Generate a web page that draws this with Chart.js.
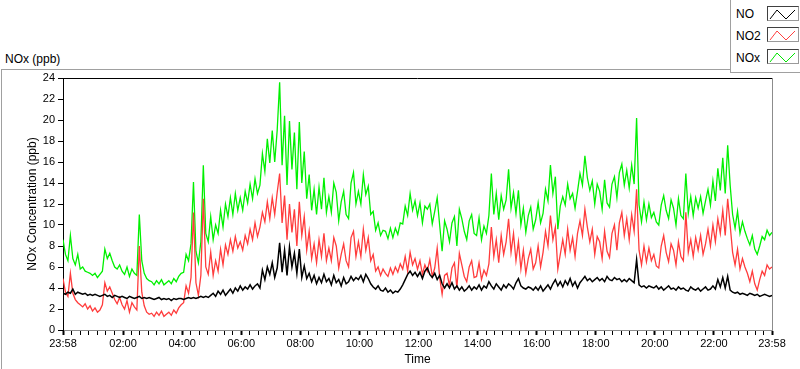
<!DOCTYPE html>
<html>
<head>
<meta charset="utf-8">
<script src="https://cdn.jsdelivr.net/npm/chart.js@4"></script>
<style>
  body { margin: 0; background: #fff; font-family: "Liberation Sans", Arial, sans-serif; color: #000; }
  #wrap { position: relative; width: 800px; height: 369px; overflow: hidden; }
  #frame { position: absolute; left: 1px; top: 69px; width: 820px; height: 400px;
           border-left: 1px solid #a0a0a0; border-top: 1px solid #a0a0a0; }
  #chartTitle { position: absolute; left: 5px; top: 52px; font-size: 12px; }
  #legend { position: absolute; left: 730px; top: -1px; width: 70px; height: 72px;
            border: 1px solid #a0a0a0; background: #fff; }
  .lbl { position: absolute; left: 5px; font-size: 12px; line-height: 14px; }
  .icon { position: absolute; left: 36px; width: 30px; height: 13px;
          border: 1px solid #9a9a9a; border-top-color: #404040; border-left-color: #404040; }
  canvas { position: absolute; left: 0; top: 0; }
</style>
</head>
<body>
<div id="wrap">
  <div id="frame"></div>
  <div id="chartTitle">NOx (ppb)</div>
  <canvas id="noxChart" width="800" height="369"></canvas>
  <div id="legend">
    <div class="lbl" style="top:7px">NO</div>
    <div class="icon" style="top:6px"><svg width="30" height="13"><polyline points="2,11 9,2 18,11 27,2" fill="none" stroke="#000" stroke-width="1"/></svg></div>
    <div class="lbl" style="top:29px">NO2</div>
    <div class="icon" style="top:27px"><svg width="30" height="13"><polyline points="2,11 9,2 18,11 27,2" fill="none" stroke="#ff4040" stroke-width="1"/></svg></div>
    <div class="lbl" style="top:51px">NOx</div>
    <div class="icon" style="top:49px"><svg width="30" height="13"><polyline points="2,11 9,2 18,11 27,2" fill="none" stroke="#00e600" stroke-width="1"/></svg></div>
  </div>
</div>
<script>
// minutes after 23:58, one reading every 5 minutes
const minutes = Array.from({ length: 289 }, (_, i) => i * 5);

const noValues = [
  3.5,3.4,3.6,3.5,3.9,3.4,3.6,3.5,3.4,3.5,3.3,3.4,
  3.3,3.4,3.3,3.2,3.3,3.4,3.2,3.3,3.1,3.3,3.2,3.1,
  3.2,3.1,3.0,3.2,3.1,3.0,3.1,3.2,3.0,3.1,3.0,3.1,
  3.0,2.9,3.0,3.1,2.9,3.0,2.9,3.0,2.8,3.0,2.9,3.0,
  3.0,2.9,3.0,3.1,3.0,3.1,3.0,3.1,3.2,3.1,3.2,3.1,
  3.3,3.5,3.2,3.7,3.4,3.8,3.3,3.6,3.9,3.5,4.0,3.7,
  4.2,3.8,4.1,3.9,4.3,3.9,4.2,4.4,4.0,5.7,4.8,6.0,
  5.3,6.4,5.0,5.9,8.3,5.5,7.6,5.2,7.9,6.0,7.3,5.4,
  7.7,5.0,6.1,4.9,5.4,4.6,5.2,4.4,5.0,4.5,5.3,4.6,
  4.9,4.3,5.2,4.5,4.8,4.2,5.0,4.4,4.6,5.1,4.7,5.0,
  4.8,5.2,4.6,5.3,4.9,4.4,4.1,3.9,4.2,3.8,3.7,4.0,
  3.6,3.8,3.5,3.7,3.6,3.9,4.3,4.8,5.3,5.6,5.2,5.5,
  5.1,5.5,4.9,5.6,5.9,5.3,5.0,5.4,4.8,5.2,4.4,4.0,
  4.4,4.0,4.5,3.9,4.2,3.8,4.1,3.7,3.9,4.2,3.8,4.1,
  3.9,4.3,3.8,4.2,4.0,4.6,4.2,3.9,4.4,4.1,3.8,4.3,
  4.0,4.4,4.2,3.9,4.5,4.9,4.2,4.0,3.9,4.1,4.0,3.8,
  4.1,3.8,4.2,3.7,4.0,4.3,3.9,4.4,4.8,4.2,4.6,4.1,
  4.7,4.3,4.9,4.2,4.6,4.0,4.5,4.8,5.1,4.7,4.9,4.6,
  4.8,5.0,4.7,4.9,4.6,5.1,4.8,4.7,5.0,4.8,4.9,4.6,
  4.8,4.6,4.9,4.7,4.5,6.7,4.3,4.1,4.2,4.0,4.2,4.1,
  4.0,4.2,3.9,4.1,3.8,4.0,4.2,3.9,4.0,3.8,4.1,3.9,
  4.0,3.8,3.7,4.1,3.9,3.8,4.0,3.7,3.9,4.1,3.8,3.9,
  4.2,3.9,4.8,4.1,5.0,4.0,5.1,3.8,3.6,3.5,3.6,3.4,
  3.5,3.4,3.3,3.5,3.4,3.3,3.4,3.2,3.3,3.4,3.3,3.2,
  3.3
];

const no2Values = [
  4.9,3.6,3.2,5.4,3.5,2.9,2.6,2.4,2.2,2.5,2.0,2.3,
  1.8,2.1,1.7,1.9,2.4,4.5,3.7,4.1,3.5,2.9,2.5,3.1,
  2.4,2.0,2.8,1.7,2.6,2.2,1.9,8.0,3.6,2.3,1.7,1.5,
  1.6,1.3,1.7,1.4,1.8,1.3,1.5,1.7,1.4,1.9,1.6,2.1,
  2.4,2.6,4.2,3.5,5.0,11.2,4.5,3.3,5.2,12.5,6.0,5.3,
  7.4,5.2,6.6,5.6,7.7,6.2,8.1,7.2,8.6,7.5,8.9,7.8,
  8.4,7.6,9.0,8.2,9.6,8.6,10.2,8.9,9.8,11.2,10.3,12.2,
  10.6,12.6,11.0,13.1,14.9,10.2,12.8,8.6,12.0,9.3,11.5,8.0,
  12.2,9.0,10.8,7.6,9.4,6.8,8.2,6.4,8.6,7.0,9.2,6.6,
  7.8,6.6,8.8,8.0,5.9,7.2,8.2,6.6,6.0,8.8,9.4,7.0,
  8.4,7.0,9.6,7.6,8.8,6.6,7.2,5.6,6.0,5.2,5.8,5.4,
  5.1,5.9,5.3,6.0,5.5,6.3,5.8,7.0,5.6,7.4,6.2,6.8,
  5.8,6.6,5.3,6.2,5.6,6.7,5.1,5.9,7.8,5.0,3.4,5.2,
  5.4,4.2,5.9,6.4,4.0,7.3,6.2,5.1,4.6,6.0,6.6,5.0,
  5.1,6.4,4.8,5.7,5.2,6.3,9.8,7.0,8.6,6.4,9.0,7.2,
  8.4,10.6,7.4,9.2,6.6,8.4,5.8,7.6,5.4,6.8,7.7,5.8,
  6.4,8.0,6.0,7.4,9.4,8.0,10.9,8.6,9.8,5.8,7.2,8.6,
  7.2,9.6,7.6,8.8,7.0,9.2,10.4,9.0,11.5,9.8,8.4,9.6,
  7.2,8.9,8.4,6.8,9.4,7.5,6.9,9.2,10.0,7.6,10.2,11.2,
  9.0,10.6,8.6,11.0,9.4,13.4,7.6,6.2,8.0,6.5,7.8,6.6,
  7.2,6.1,5.9,8.0,9.0,7.4,6.5,8.2,7.6,6.2,8.4,7.0,
  6.6,11.2,7.4,8.6,7.0,8.8,7.6,9.0,7.2,8.2,9.6,8.0,
  10.0,8.4,10.6,9.2,11.4,9.0,12.5,10.0,7.4,6.2,7.7,5.8,
  6.8,6.0,5.4,4.6,5.6,4.4,3.8,4.8,5.6,5.2,6.2,5.8,
  6.0
];

const noxValues = [
  8.6,7.2,6.6,9.0,6.8,6.2,7.2,5.8,6.0,5.6,5.5,5.4,
  5.2,5.4,5.0,5.3,5.6,7.7,6.8,7.3,6.6,6.0,5.8,6.2,
  5.6,5.3,6.0,5.1,5.8,5.4,5.2,11.0,6.6,5.4,4.9,4.7,
  4.6,4.3,4.7,4.4,4.8,4.3,4.5,4.7,4.4,4.9,4.6,5.1,
  5.4,5.5,7.2,6.6,8.2,14.1,7.5,6.4,8.4,15.7,9.2,8.4,
  10.8,8.6,10.0,9.2,11.4,9.8,12.0,10.8,12.6,11.0,13.0,11.4,
  12.6,11.4,13.2,12.1,13.9,12.5,14.4,13.0,13.8,16.8,15.1,18.2,
  15.9,19.0,16.0,19.0,23.6,15.7,20.4,13.8,19.9,15.3,18.8,13.4,
  19.8,14.0,17.0,12.5,14.8,11.4,13.4,11.0,13.6,11.5,14.5,11.2,
  12.7,11.2,14.0,13.1,10.4,12.2,13.2,11.0,10.6,14.0,15.0,12.0,
  13.2,12.0,14.8,12.9,13.7,11.0,11.3,9.5,10.2,9.0,9.5,9.4,
  8.7,9.7,8.8,9.7,9.1,10.2,10.1,11.8,10.9,13.0,11.4,12.3,
  10.9,12.1,10.2,11.8,11.5,12.0,10.1,11.3,12.6,10.0,7.5,10.4,
  9.6,8.4,10.2,10.8,8.0,11.5,10.6,9.4,8.6,10.4,11.0,9.2,
  9.0,10.7,8.6,9.9,9.2,10.9,14.9,11.0,13.0,10.5,12.8,11.5,
  12.4,15.3,11.6,13.1,11.1,13.3,10.0,11.6,9.3,10.9,11.7,9.6,
  10.5,12.1,10.2,11.1,13.4,12.3,15.7,13.0,14.6,9.6,11.8,12.7,
  11.9,13.9,12.5,13.0,11.6,13.2,14.9,13.8,16.6,14.5,13.3,14.2,
  12.0,13.9,13.2,11.5,14.3,12.1,11.7,13.9,14.6,12.6,15.0,15.8,
  13.8,15.2,13.5,15.7,13.9,20.2,11.9,10.3,12.2,10.5,12.0,10.7,
  11.2,10.3,10.0,11.9,12.8,11.4,10.6,12.4,11.6,10.0,12.5,10.9,
  10.6,14.9,11.1,12.7,10.9,12.6,11.6,12.7,11.1,12.3,13.4,11.9,
  14.2,12.3,15.4,13.3,16.4,13.0,17.6,13.8,11.0,9.7,11.3,9.2,
  10.3,9.4,8.7,8.1,9.0,7.7,7.2,8.0,8.9,8.6,9.5,9.0,
  9.3
];

// labelled ticks on the time axis (minutes after 23:58)
const majorTicks = [0, 122, 242, 362, 482, 602, 722, 842, 962, 1082, 1202, 1322, 1440];
const tickLabels = ["23:58", "02:00", "04:00", "06:00", "08:00", "10:00", "12:00",
  "14:00", "16:00", "18:00", "20:00", "22:00", "23:58"];
const minorPerGap = 6;

function buildTimeTicks() {
  let ticks = [];
  for (let i = 0; i < majorTicks.length; i++) {
    ticks.push({ value: majorTicks[i], major: true });
    if (i < majorTicks.length - 1) {
      const step = (majorTicks[i + 1] - majorTicks[i]) / (minorPerGap + 1);
      for (let k = 1; k <= minorPerGap; k++) {
        ticks.push({ value: majorTicks[i] + k * step, major: false });
      }
    }
  }
  return ticks;
}

function toPoints(values) {
  return values.map((v, i) => ({ x: minutes[i], y: v }));
}

const plotFrame = {
  id: "plotFrame",
  afterDraw(chart) {
    const a = chart.chartArea;
    const c = chart.ctx;
    c.save();
    c.lineWidth = 1;
    c.strokeStyle = "#000";
    c.beginPath();
    c.moveTo(a.left, a.top + 0.5);
    c.lineTo(a.right, a.top + 0.5);
    c.stroke();
    c.strokeStyle = "#8c8c8c";
    c.beginPath();
    c.moveTo(a.right + 0.5, a.top);
    c.lineTo(a.right + 0.5, a.bottom);
    c.stroke();
    c.restore();
  },
};

const tickFont = { family: "Liberation Sans", size: 11 };
const titleFont = { family: "Liberation Sans", size: 12 };

const ctx = document.getElementById("noxChart").getContext("2d");
new Chart(ctx, {
  type: "line",
  data: {
    datasets: [
      { label: "NO", data: toPoints(noValues), borderColor: "#000000", borderWidth: 1.5 },
      { label: "NO2", data: toPoints(no2Values), borderColor: "#ff3c3c", borderWidth: 1.3 },
      { label: "NOx", data: toPoints(noxValues), borderColor: "#00f000", borderWidth: 1.3 },
    ],
  },
  options: {
    responsive: false,
    animation: false,
    events: [],
    elements: { point: { radius: 0 }, line: { tension: 0 } },
    layout: { padding: { top: 78, right: 28, left: 0, bottom: 0 } },
    plugins: { legend: { display: false }, tooltip: { enabled: false } },
    scales: {
      x: {
        type: "linear",
        min: 0,
        max: 1440,
        afterFit: (scale) => { scale.height = 39; },
        afterBuildTicks: (scale) => { scale.ticks = buildTimeTicks(); },
        ticks: {
          autoSkip: false,
          maxRotation: 0,
          padding: 2,
          color: "#000",
          font: tickFont,
          callback: (value) => {
            const idx = majorTicks.indexOf(value);
            return idx >= 0 ? tickLabels[idx] : "";
          },
        },
        grid: {
          display: true,
          drawOnChartArea: false,
          drawTicks: true,
          tickLength: 5,
          tickColor: "#000",
          tickWidth: (c) => (c.tick && c.tick.major ? 2 : 1),
        },
        border: { display: true, color: "#8c8c8c", width: 1 },
        title: { display: true, text: "Time", color: "#000", font: titleFont, padding: { top: 0, bottom: 2 } },
      },
      y: {
        min: 0,
        max: 24,
        afterFit: (scale) => { scale.width = 63; },
        ticks: { stepSize: 2, padding: 3, color: "#000", font: tickFont },
        grid: { display: true, drawOnChartArea: false, drawTicks: true, tickLength: 5, tickColor: "#000" },
        border: { display: true, color: "#000", width: 1 },
        title: { display: true, text: "NOx Concentration (ppb)", color: "#000", font: titleFont, padding: { top: 25, bottom: 0 } },
      },
    },
  },
  plugins: [plotFrame],
});
</script>
</body>
</html>
